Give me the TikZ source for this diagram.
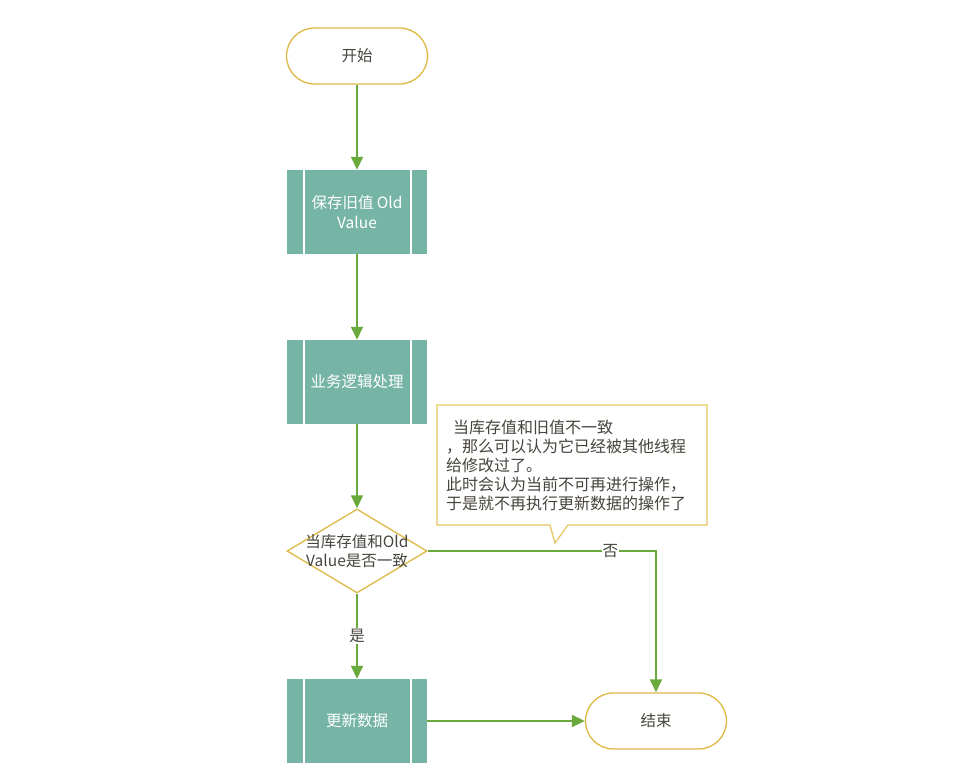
\documentclass[tikz,border=0pt]{standalone}
\usepackage{fontspec}
\setmainfont{Noto Sans CJK SC}
\usetikzlibrary{arrows.meta,shapes.geometric,shapes.callouts}
\definecolor{flowgreen}{RGB}{106,170,60}
\definecolor{boxteal}{RGB}{118,180,166}
\definecolor{termgold}{RGB}{222,184,70}
\definecolor{notegold}{RGB}{230,200,100}
\definecolor{textgrey}{RGB}{70,68,60}
\begin{document}
\begin{tikzpicture}[x=1pt,y=-1pt,
    font=\fontsize{15.5}{19.5}\selectfont,
    termbox/.style={draw=termgold, line width=1.3pt, rounded corners=28pt,
        minimum width=141pt, minimum height=56pt, text=textgrey},
    procbox/.style={fill=boxteal, minimum width=140pt, minimum height=84pt,
        text=white, align=center,
        path picture={
            \draw[white, line width=1.5pt] ([xshift=17pt]path picture bounding box.north west)
                -- ([xshift=17pt]path picture bounding box.south west);
            \draw[white, line width=1.5pt] ([xshift=-16pt]path picture bounding box.north east)
                -- ([xshift=-16pt]path picture bounding box.south east);
        }},
    decbox/.style={diamond, draw=termgold, line width=1.3pt,
        minimum width=140pt, minimum height=84pt, inner sep=0pt},
    dectext/.style={align=center, text=textgrey, font=\fontsize{15.5}{18.5}\selectfont},
    flowline/.style={draw=flowgreen, line width=1.6pt, -{Triangle[length=13pt,width=12pt]}},
    edgetext/.style={fill=white, text=textgrey, inner sep=1pt},
    notebox/.style={rectangle callout, draw=notegold, fill=white, line width=1.3pt,
        minimum width=270pt, minimum height=120pt, text width=252pt, align=left,
        text=textgrey, callout pointer width=18pt, font=\fontsize{16}{19}\selectfont}]
    \useasboundingbox (0,0) rectangle (980,781);

    % main column
    \node[termbox] (start) at (357,56) {开始};
    \node[procbox] (save) at (357,212) {保存旧值 Old\\Value};
    \node[procbox] (logic) at (357,382) {业务逻辑处理};
    \node[decbox] (check) at (357,551) {};
    \node[dectext] (checktext) at (check) {当库存值和Old\\Value是否一致};
    \node[procbox] (update) at (357,721) {更新数据};
    \node[termbox] (finish) at (656,721) {结束};

    % comment
    \node[notebox, callout absolute pointer={(555,543)}] (note) at (572,465)
        {\hspace*{7pt}当库存值和旧值不一致\\，那么可以认为它已经被其他线程\\给修改过了。\\此时会认为当前不可再进行操作，\\于是就不再执行更新数据的操作了};

    % connectors
    \draw[flowline] (start) -- (save);
    \draw[flowline] (save) -- (logic);
    \draw[flowline] (logic) -- (check);
    \draw[flowline] (check) -- node[edgetext] {是} (update);
    \draw[flowline] (check.east) -| node[edgetext, pos=0.4] {否} (finish);
    \draw[flowline] (update) -- (finish);
\end{tikzpicture}
\end{document}
